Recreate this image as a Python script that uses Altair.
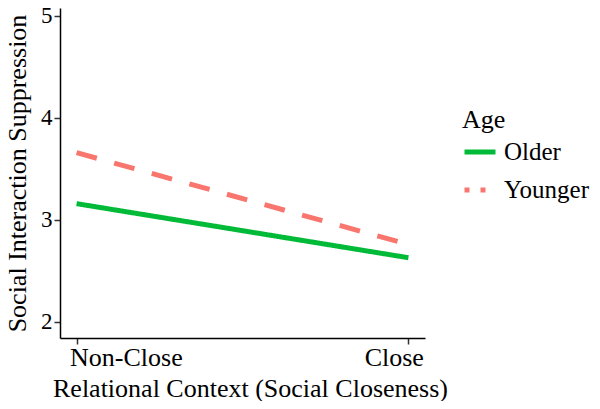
import altair as alt
import pandas as pd

contexts = ["Non-Close", "Close"]
ages = ["Older", "Younger"]
older = [3.16, 2.63]
younger = [3.66, 2.76]
colors = ["#00BA38", "#F8766D"]

rows = []
for c, o, yv in zip(contexts, older, younger):
    rows.append({"Context": c, "Age": "Older", "Value": o})
    rows.append({"Context": c, "Age": "Younger", "Value": yv})
df = pd.DataFrame(rows)

FONT = "Liberation Serif"

x_enc = alt.X(
    "Context:N",
    sort=contexts,
    scale=alt.Scale(padding=0.05),
    axis=alt.Axis(
        title="Relational Context (Social Closeness)",
        labelAngle=0,
        labelAlign={"condition": {"test": "datum.value == 'Close'", "value": "right"}, "value": "left"},
        labelOffset={"condition": {"test": "datum.value == 'Close'", "value": 15}, "value": -7},
        labelFontSize=26,
        labelPadding=0,
        tickSize=6,
        titleFontSize=26,
        titleX=190,
        titleY=58,
        titleBaseline="alphabetic",
    ),
)
y_enc = alt.Y(
    "Value:Q",
    scale=alt.Scale(domain=[1.843, 5.078], nice=False, zero=False),
    axis=alt.Axis(
        values=[2, 3, 4, 5],
        title="Social Interaction Suppression",
        labelFontSize=23,
        labelPadding=2,
        tickSize=6,
        titleFontSize=26,
        titleX=-35,
        titleBaseline="alphabetic",
    ),
)

lines = alt.Chart(df).mark_line(strokeWidth=5, strokeCap="butt").encode(
    x=x_enc,
    y=y_enc,
    color=alt.Color("Age:N", scale=alt.Scale(domain=ages, range=colors), legend=None),
    strokeDash=alt.StrokeDash(
        "Age:N", scale=alt.Scale(domain=ages, range=[[1, 0], [21, 18]]), legend=None
    ),
)

leg = alt.Legend(
    title="Age",
    orient="none",
    legendX=402,
    legendY=99,
    symbolType="stroke",
    symbolSize=961,
    symbolStrokeWidth=5,
    labelFont=FONT,
    labelFontSize=25,
    labelOffset=6,
    titleFont=FONT,
    titleFontSize=26,
    titleFontWeight="normal",
    titlePadding=1,
    rowPadding=7,
)

key = (
    alt.Chart(df)
    .transform_filter(alt.datum.Context == "Non-Close")
    .mark_line(strokeWidth=5, strokeCap="butt")
    .encode(
        x=x_enc,
        y=y_enc,
        color=alt.Color("Age:N", scale=alt.Scale(domain=ages, range=colors), legend=leg),
        strokeDash=alt.StrokeDash(
            "Age:N", scale=alt.Scale(domain=ages, range=[[1, 0], [5, 11]]), legend=leg
        ),
    )
)

chart = (
    alt.layer(lines, key)
    .resolve_scale(color="independent", strokeDash="independent")
    .properties(
        width=365,
        height=330,
        autosize=alt.AutoSizeParams(type="none"),
        padding={"left": 52, "top": 0, "right": 167, "bottom": 63},
        background="white",
    )
    .configure(font=FONT)
    .configure_view(stroke=None)
    .configure_axis(
        grid=False,
        domainColor="black",
        domainWidth=1.5,
        tickColor="#333333",
        tickWidth=1.5,
        labelColor="black",
        titleColor="black",
        labelFont=FONT,
        titleFont=FONT,
        titleFontWeight="normal",
    )
    .configure_legend(labelColor="black", titleColor="black")
)

chart.save("out.html", embed_options={"renderer": "svg", "actions": False})
